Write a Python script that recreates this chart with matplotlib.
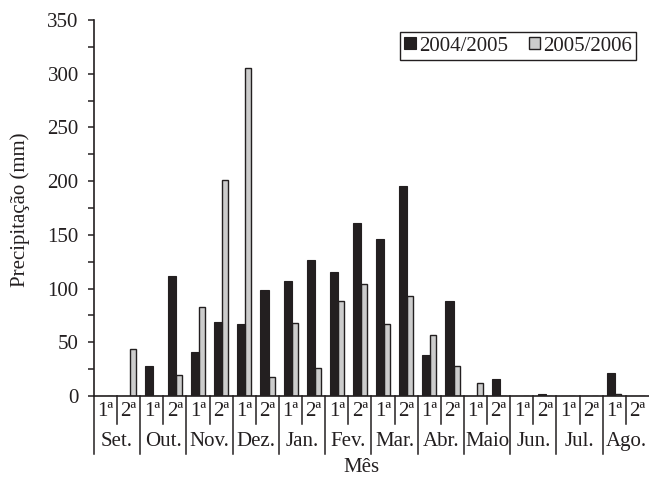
# rainfall per half-month for two seasons (2004/2005 and 2005/2006)
import matplotlib
matplotlib.use("Agg")
import matplotlib.pyplot as plt
import numpy as np

months = ["Set.", "Out.", "Nov.", "Dez.", "Jan.", "Fev.", "Mar.",
          "Abr.", "Maio", "Jun.", "Jul.", "Ago."]
halves = ["1ª", "2ª"]

# precipitation (mm), one value per half-month, Sep -> Aug
rain_0405 = [0, 0, 28, 112, 41, 69, 67, 99, 107, 127, 115, 161,
             146, 195, 38, 88, 0, 15.5, 0, 2, 0, 0, 21.5, 0]
rain_0506 = [0, 44, 0, 20, 83, 201, 305, 18, 68, 26.5, 88, 104,
             67, 93, 57, 28, 12, 0, 0, 0, 0, 0, 1.5, 0]

plt.rcParams["font.family"] = ["Liberation Serif", "DejaVu Serif"]
plt.rcParams["font.size"] = 15

fig = plt.figure(figsize=(6.49, 4.79), dpi=100)
ax = fig.add_axes([0.1448, 0.1733, 0.8552, 0.7850])

x = np.arange(len(rain_0405))
dark = "#231f20"
ax.bar(x - 0.30, rain_0405, width=0.35, align="edge", color=dark,
       edgecolor=dark, linewidth=0.8, label="2004/2005", zorder=3)
ax.bar(x + 0.05, rain_0506, width=0.26, align="edge", color="#cccccc",
       edgecolor=dark, linewidth=1.0, label="2005/2006", zorder=2)

ax.set_xlim(-0.5, len(x) - 0.5)
ax.set_ylim(0, 350)
ax.set_yticks(np.arange(0, 351, 50))
ax.set_yticks(np.arange(0, 351, 25), minor=True)
ax.tick_params(axis="y", which="both", length=4, width=1.1, color=dark,
               pad=7, labelcolor=dark)
ax.set_xticks([])

for side in ["top", "right"]:
    ax.spines[side].set_visible(False)
ax.spines["left"].set_linewidth(1.2)
ax.spines["bottom"].set_linewidth(1.2)
ax.spines["left"].set_color(dark)
ax.spines["bottom"].set_color(dark)

# two-row category axis: half-month row, then month row
trans = ax.get_xaxis_transform()
for i in range(len(x)):
    ax.text(i, -0.04, halves[i % 2], transform=trans, ha="center",
            va="center", color=dark)
for m, name in enumerate(months):
    ax.text(2 * m + 0.5, -0.12, name, transform=trans, ha="center",
            va="center", color=dark)

# separators between halves (short) and months (long)
for b in range(len(x)):
    bottom = -0.155 if b % 2 == 0 else -0.075
    ax.plot([b - 0.5, b - 0.5], [0, bottom], transform=trans, color=dark,
            linewidth=1.1, clip_on=False)

ax.text(0.482, -0.19, "Mês", transform=ax.transAxes, ha="center",
        va="center", color=dark)
ax.set_ylabel("Precipitação (mm)", color=dark)
ax.yaxis.set_label_coords(-0.116, 0.495)

leg = ax.legend(loc="upper right", bbox_to_anchor=(0.977, 0.967), ncol=2,
                fancybox=False, framealpha=1, edgecolor=dark,
                handlelength=0.55, handleheight=0.55, handletextpad=0.15,
                columnspacing=1.0, borderpad=0.2, borderaxespad=0)
leg.get_frame().set_linewidth(1.0)
for t in leg.get_texts():
    t.set_color(dark)

fig.savefig("out.png", dpi=100)
